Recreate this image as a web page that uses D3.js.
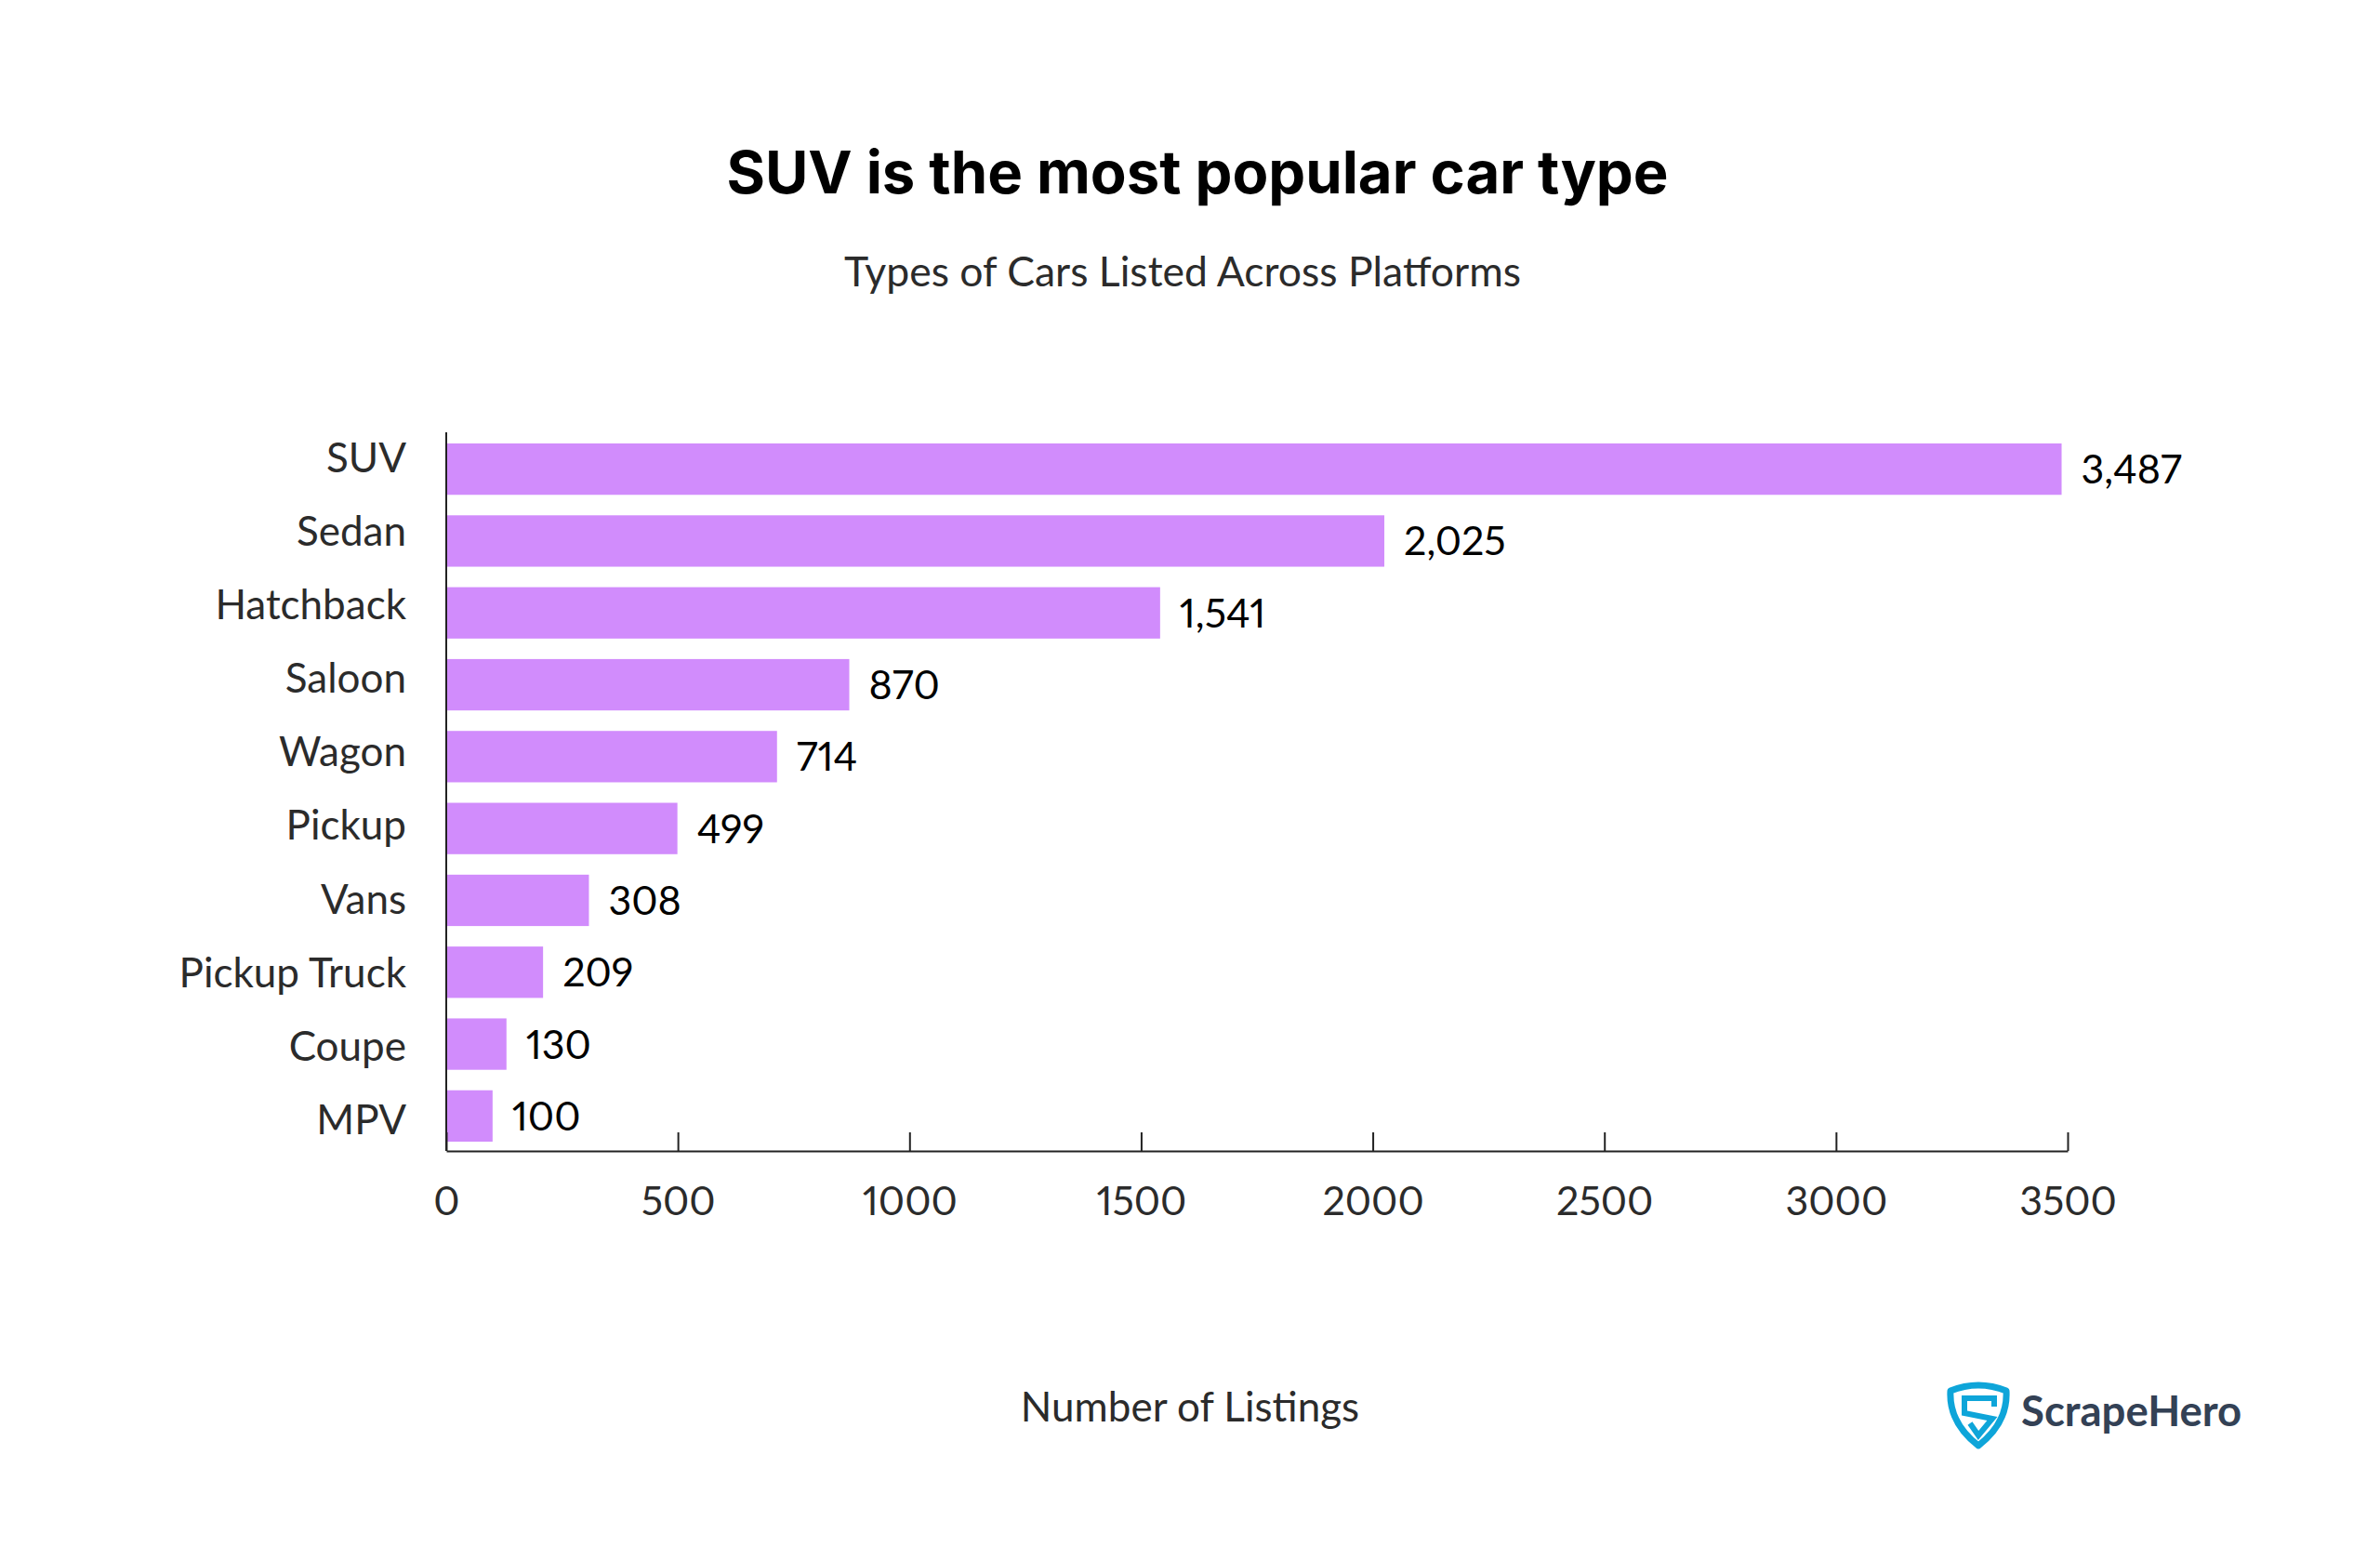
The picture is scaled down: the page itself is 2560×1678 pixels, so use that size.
<!DOCTYPE html>
<html>
<head>
<meta charset="utf-8">
<script src="https://cdn.jsdelivr.net/npm/d3@7"></script>
<style>
html, body { margin: 0; padding: 0; background: #fff; }
svg { display: block; }
text { font-family: Lato, sans-serif; font-variant-numeric: proportional-nums; }
</style>
</head>
<body>
<div id="chart-area"></div>
<script>
var categories = ["SUV", "Sedan", "Hatchback", "Saloon", "Wagon", "Pickup", "Vans", "Pickup Truck", "Coupe", "MPV"];
var listings = [3487, 2025, 1541, 870, 714, 499, 308, 209, 130, 100];
var xTicks = [0, 500, 1000, 1500, 2000, 2500, 3000, 3500];

var svg = d3.select("#chart-area")
	.append("svg")
	.attr("width", 2560)
	.attr("height", 1678);

// SCALES
var x = d3.scaleLinear()
	.domain([0, 3500])
	.range([480, 2224]);
var y = d3.scaleBand()
	.domain(categories)
	.range([465, 1240])
	.paddingInner(0.285)
	.paddingOuter(0.155);
// the category labels sit on a slightly wider spacing than the bars
var yLabel = d3.scalePoint()
	.domain(categories)
	.range([492, 1204]);

// BARS
svg.selectAll("rect.bar")
	.data(listings)
	.enter()
	.append("rect")
	.attr("class", "bar")
	.attr("x", x(0))
	.attr("y", (d, i) => y(categories[i]))
	.attr("width", d => x(d) - x(0))
	.attr("height", y.bandwidth())
	.attr("fill", "#d18cfc");

// Value labels
svg.selectAll("text.value")
	.data(listings)
	.enter()
	.append("text")
	.attr("class", "value")
	.attr("x", d => x(d) + 21)
	.attr("y", (d, i) => y(categories[i]) + y.bandwidth() / 2)
	.attr("dy", "0.36em")
	.attr("font-size", 43)
	.attr("fill", "#000")
	.text(d => d3.format(",")(d));

// X Axis
var xAxisCall = d3.axisBottom(x)
	.tickValues(xTicks)
	.tickSize(-20)
	.tickSizeOuter(0)
	.tickPadding(38)
	.tickFormat(d => d);
var xAxis = svg.append("g")
	.attr("transform", "translate(0, 1238)")
	.call(xAxisCall);
xAxis.selectAll("line").attr("stroke", "#222").attr("stroke-width", 2);
xAxis.select(".domain").attr("stroke", "#222").attr("stroke-width", 2);
xAxis.selectAll("text")
	.attr("font-size", 43)
	.attr("fill", "#2b2b2b");

// Y Axis
svg.append("line")
	.attr("x1", x(0))
	.attr("x2", x(0))
	.attr("y1", 465)
	.attr("y2", 1238)
	.attr("stroke", "#222")
	.attr("stroke-width", 2);
svg.selectAll("text.category")
	.data(categories)
	.enter()
	.append("text")
	.attr("class", "category")
	.attr("x", 437)
	.attr("y", d => yLabel(d))
	.attr("dy", "0.36em")
	.attr("text-anchor", "end")
	.attr("font-size", 44)
	.attr("fill", "#2b2b2b")
	.text(d => d);

// LABELS
svg.append("text")
	.attr("x", 1288)
	.attr("y", 208)
	.attr("text-anchor", "middle")
	.attr("font-size", 63.4)
	.attr("font-weight", 700)
	.style("font-family", "Inter, sans-serif")
	.attr("fill", "#000")
	.text("SUV is the most popular car type");
svg.append("text")
	.attr("x", 1272)
	.attr("y", 308)
	.attr("text-anchor", "middle")
	.attr("font-size", 44.5)
	.attr("fill", "#2b2b2b")
	.text("Types of Cars Listed Across Platforms");
svg.append("text")
	.attr("x", 1280)
	.attr("y", 1529)
	.attr("text-anchor", "middle")
	.attr("font-size", 44)
	.attr("fill", "#2b2b2b")
	.text("Number of Listings");

// Logo
var logo = svg.append("g").attr("fill", "none").attr("stroke", "#0ea5d9");
logo.append("path")
	.attr("d", "M2098 1496 Q2128 1484 2158 1496 Q2160 1530 2128 1555 Q2096 1530 2098 1496 Z")
	.attr("stroke-width", 7)
	.attr("stroke-linejoin", "round");
logo.append("path")
	.attr("d", "M2145 1513 L2145 1504 L2113 1504 L2113 1520 L2143 1526 L2128 1544 L2119 1531")
	.attr("stroke-width", 6);
svg.append("text")
	.attr("x", 2174)
	.attr("y", 1534)
	.attr("font-size", 45.5)
	.attr("font-weight", 700)
	.attr("fill", "#334155")
	.text("ScrapeHero");
</script>
</body>
</html>
